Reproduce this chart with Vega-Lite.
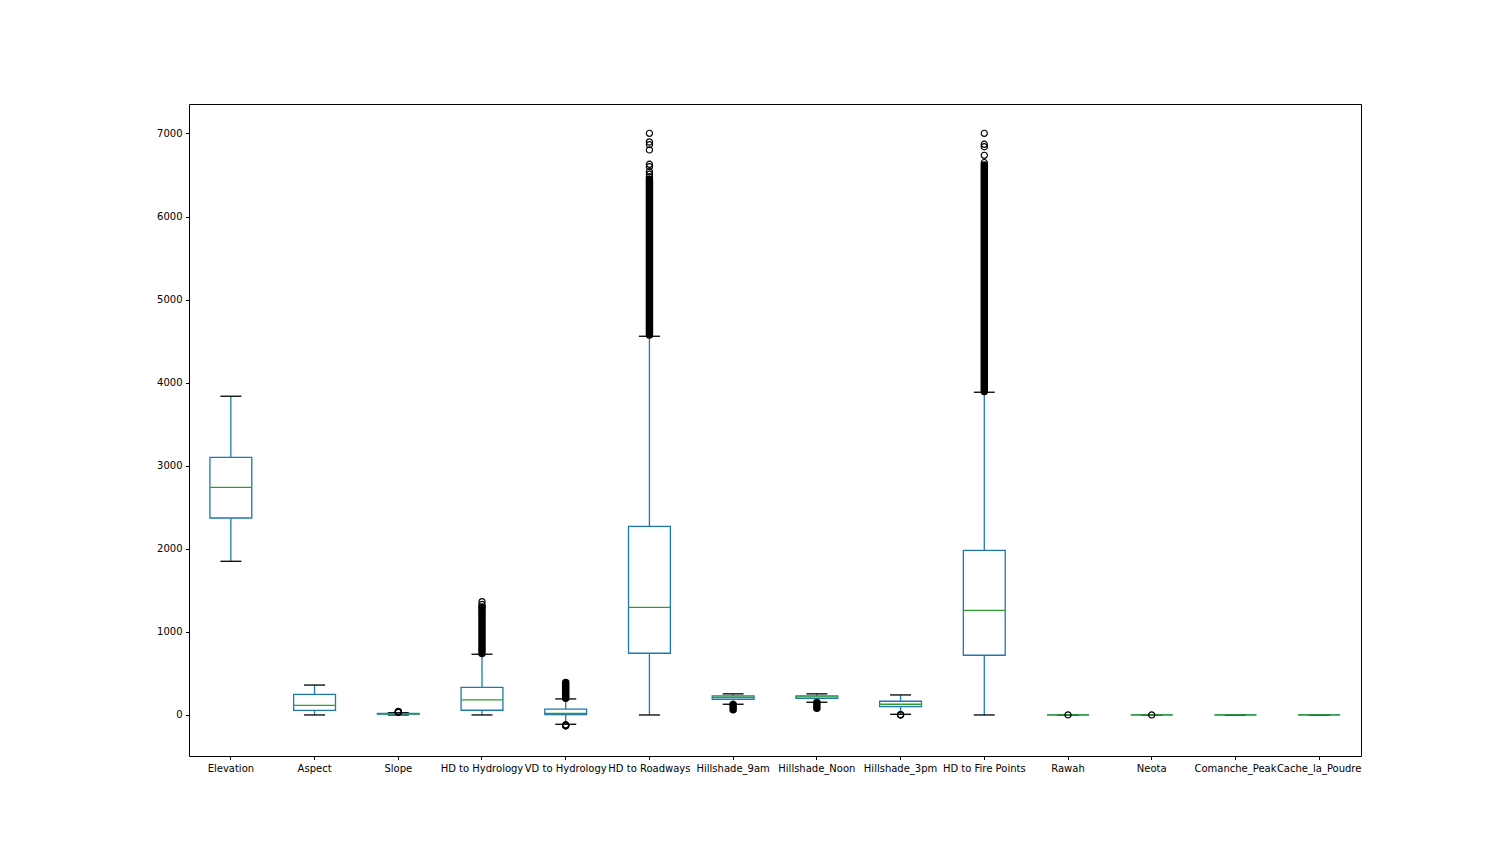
{
  "$schema": "https://vega.github.io/schema/vega-lite/v6.json",
  "autosize": {"type": "none"},
  "padding": {"left": 189, "top": 104, "right": 151, "bottom": 108},
  "width": 1172,
  "height": 652,
  "background": "white",
  "config": {
    "view": {"stroke": "black", "strokeWidth": 1},
    "axis": {
      "labelFont": "DejaVu Sans",
      "labelFontSize": 10,
      "labelColor": "black",
      "tickColor": "black",
      "tickSize": 3.5,
      "tickWidth": 1,
      "labelPadding": 3.5,
      "domain": false,
      "grid": false,
      "title": null
    }
  },
  "datasets": {
    "stats": [
      {"c": "Elevation", "lo": 1850, "q1": 2371, "med": 2741, "q3": 3102, "hi": 3837},
      {"c": "Aspect", "lo": 0, "q1": 56, "med": 116, "q3": 249, "hi": 360},
      {"c": "Slope", "lo": 0, "q1": 9, "med": 13, "q3": 18, "hi": 28},
      {"c": "HD to Hydrology", "lo": 0, "q1": 57, "med": 181, "q3": 333, "hi": 731},
      {"c": "VD to Hydrology", "lo": -112, "q1": 3, "med": 20, "q3": 70, "hi": 193},
      {"c": "HD to Roadways", "lo": 0, "q1": 743, "med": 1296, "q3": 2271, "hi": 4559},
      {"c": "Hillshade_9am", "lo": 129, "q1": 189, "med": 213, "q3": 229, "hi": 254},
      {"c": "Hillshade_Noon", "lo": 153, "q1": 200, "med": 217, "q3": 229, "hi": 254},
      {"c": "Hillshade_3pm", "lo": 8, "q1": 100, "med": 129, "q3": 165, "hi": 241},
      {"c": "HD to Fire Points", "lo": 0, "q1": 719, "med": 1260, "q3": 1982, "hi": 3885},
      {"c": "Rawah", "lo": 0, "q1": 0, "med": 0, "q3": 0, "hi": 0},
      {"c": "Neota", "lo": 0, "q1": 0, "med": 0, "q3": 0, "hi": 0},
      {"c": "Comanche_Peak", "lo": 0, "q1": 0, "med": 0, "q3": 0, "hi": 0},
      {"c": "Cache_la_Poudre", "lo": 0, "q1": 0, "med": 0, "q3": 0, "hi": 0}
    ],
    "dense": [
      {"c": "HD to Hydrology", "from": 740, "to": 1290},
      {"c": "VD to Hydrology", "from": 200, "to": 391},
      {"c": "HD to Roadways", "from": 4575, "to": 6450},
      {"c": "Hillshade_9am", "from": 63, "to": 126},
      {"c": "Hillshade_Noon", "from": 82, "to": 150},
      {"c": "HD to Fire Points", "from": 3895, "to": 6620}
    ],
    "fliers": [
      {"c": "Slope", "v": 31},
      {"c": "Slope", "v": 35},
      {"c": "Slope", "v": 39},
      {"c": "Slope", "v": 43},
      {"c": "HD to Hydrology", "v": 1300},
      {"c": "HD to Hydrology", "v": 1330},
      {"c": "HD to Hydrology", "v": 1364},
      {"c": "VD to Hydrology", "v": -118},
      {"c": "VD to Hydrology", "v": -123},
      {"c": "VD to Hydrology", "v": -128},
      {"c": "VD to Hydrology", "v": -133},
      {"c": "HD to Roadways", "v": 6480},
      {"c": "HD to Roadways", "v": 6510},
      {"c": "HD to Roadways", "v": 6540},
      {"c": "HD to Roadways", "v": 6600},
      {"c": "HD to Roadways", "v": 6629},
      {"c": "HD to Roadways", "v": 6802},
      {"c": "HD to Roadways", "v": 6866},
      {"c": "HD to Roadways", "v": 6898},
      {"c": "HD to Roadways", "v": 7002},
      {"c": "Hillshade_3pm", "v": 0},
      {"c": "Hillshade_3pm", "v": 2},
      {"c": "Hillshade_3pm", "v": 4},
      {"c": "HD to Fire Points", "v": 6650},
      {"c": "HD to Fire Points", "v": 6737},
      {"c": "HD to Fire Points", "v": 6841},
      {"c": "HD to Fire Points", "v": 6870},
      {"c": "HD to Fire Points", "v": 7002},
      {"c": "Rawah", "v": 1},
      {"c": "Neota", "v": 1}
    ]
  },
  "encoding": {
    "x": {
      "field": "c",
      "type": "nominal",
      "scale": {
        "domain": ["Elevation", "Aspect", "Slope", "HD to Hydrology", "VD to Hydrology", "HD to Roadways", "Hillshade_9am", "Hillshade_Noon", "Hillshade_3pm", "HD to Fire Points", "Rawah", "Neota", "Comanche_Peak", "Cache_la_Poudre"],
        "paddingInner": 0,
        "paddingOuter": 0
      },
      "axis": {"labelAngle": 0, "labelOverlap": false, "labelBound": false, "labelLimit": 300}
    }
  },
  "layer": [
    {
      "data": {"name": "stats"},
      "mark": {"type": "rule", "color": "#1f77b4", "strokeWidth": 1.3},
      "encoding": {
        "y": {"field": "q3", "type": "quantitative", "scale": {"domain": [-494, 7355], "nice": false, "zero": false}, "axis": {"values": [0, 1000, 2000, 3000, 4000, 5000, 6000, 7000], "format": "d"}},
        "y2": {"field": "hi"}
      }
    },
    {
      "data": {"name": "stats"},
      "mark": {"type": "rule", "color": "#1f77b4", "strokeWidth": 1.3},
      "encoding": {
        "y": {"field": "lo", "type": "quantitative"},
        "y2": {"field": "q1"}
      }
    },
    {
      "data": {"name": "stats"},
      "mark": {"type": "tick", "color": "black", "size": 21, "thickness": 1.3, "opacity": 1},
      "encoding": {"y": {"field": "hi", "type": "quantitative"}}
    },
    {
      "data": {"name": "stats"},
      "mark": {"type": "tick", "color": "black", "size": 21, "thickness": 1.3, "opacity": 1},
      "encoding": {"y": {"field": "lo", "type": "quantitative"}}
    },
    {
      "data": {"name": "stats"},
      "mark": {"type": "bar", "width": {"band": 0.5}, "fill": "white", "fillOpacity": 0, "stroke": "#1f77b4", "strokeWidth": 1.3},
      "encoding": {
        "y": {"field": "q1", "type": "quantitative"},
        "y2": {"field": "q3"}
      }
    },
    {
      "data": {"name": "stats"},
      "mark": {"type": "tick", "color": "#2ca02c", "size": 42, "thickness": 1.3, "opacity": 1},
      "encoding": {"y": {"field": "med", "type": "quantitative"}}
    },
    {
      "data": {"name": "dense"},
      "mark": {"type": "rule", "color": "black", "strokeWidth": 7.5, "strokeCap": "round"},
      "encoding": {
        "y": {"field": "from", "type": "quantitative"},
        "y2": {"field": "to"}
      }
    },
    {
      "data": {"name": "fliers"},
      "mark": {"type": "point", "shape": "circle", "filled": false, "stroke": "black", "strokeWidth": 1.2, "size": 38, "opacity": 1},
      "encoding": {"y": {"field": "v", "type": "quantitative"}}
    }
  ]
}
